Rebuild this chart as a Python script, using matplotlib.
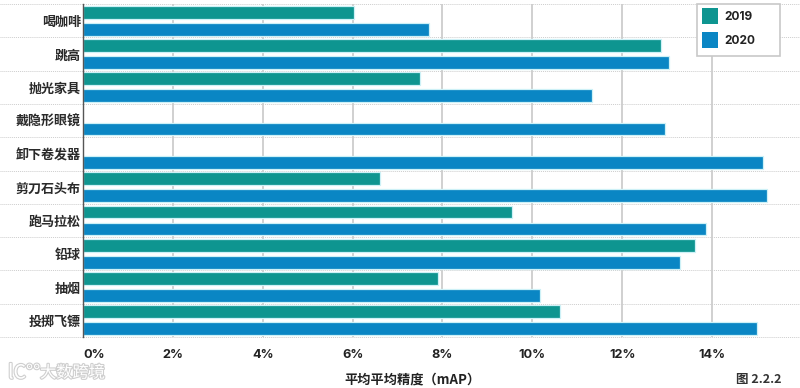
import matplotlib
matplotlib.use("Agg")
import matplotlib.pyplot as plt
import numpy as np
import matplotlib.patheffects as pe
from matplotlib.patches import Rectangle

plt.rcParams['font.family'] = ['Noto Sans CJK SC', 'DejaVu Sans']

categories = ['喝咖啡', '跳高', '抛光家具', '戴隐形眼镜', '卸下卷发器',
              '剪刀石头布', '跑马拉松', '铅球', '抽烟', '投掷飞镖']
v2019 = [6.04, 12.86, 7.50, np.nan, np.nan, 6.62, 9.55, 13.62, 7.90, 10.62]
v2020 = [7.70, 13.04, 11.33, 12.95, 15.13, 15.22, 13.87, 13.29, 10.17, 15.00]
xticks = [0, 2, 4, 6, 8, 10, 12, 14]
xlabels = ['0%', '2%', '4%', '6%', '8%', '10%', '12%', '14%']

teal = '#0E9590'
blue = '#0A86C4'
halo = '#CDF1F7'

W, H = 800, 388
fig = plt.figure(figsize=(W / 100, H / 100), dpi=100)
# axes box in pixels: left 83, right 800, top 4, bottom 337
ax = fig.add_axes([83 / W, 1 - 337 / H, (800 - 83) / W, (337 - 4) / H])

y = np.arange(len(categories))
ax.barh(y - 0.255, v2019, height=0.385, color=teal, edgecolor=halo, linewidth=0.9, zorder=3)
ax.barh(y + 0.255, v2020, height=0.385, color=blue, edgecolor=halo, linewidth=0.9, zorder=3)

ax.set_xlim(0, 15.96)
ax.set_ylim(len(categories) - 0.5, -0.5)

for s in ['top', 'right', 'bottom']:
    ax.spines[s].set_visible(False)
ax.spines['left'].set_color('#555555')
ax.spines['left'].set_linewidth(1)
ax.spines['left'].set_zorder(4)

ax.set_xticks(xticks)
ax.set_xticklabels(xlabels, fontsize=9.2, fontweight='bold', color='#222222',
                   family=['Inter', 'DejaVu Sans'])
ax.get_xticklabels()[0].set_ha('left')
ax.tick_params(axis='x', length=0, pad=9)
ax.grid(axis='x', color='#C8C8C8', linewidth=1.2, zorder=1)

ax.set_yticks(y)
ax.set_yticklabels(categories, fontsize=9.4, fontweight='bold', color='#2A2A2A')
ax.tick_params(axis='y', length=0, pad=1.5)

# dotted row separators run through the label area too
for b in np.arange(-0.5, len(categories)):
    ax.plot([-83 / 717, 1], [b, b], transform=ax.get_yaxis_transform(), clip_on=False,
            color='#CDCDCD', linewidth=0.7, linestyle=(0, (1, 1)), zorder=2)

# legend box
fig.add_artist(Rectangle((697 / W, 1 - 56 / H), 83 / W, 52 / H, transform=fig.transFigure,
                         facecolor='white', edgecolor='#C8C8C8', linewidth=1.2, zorder=5))
for top, col, name in [(8, teal, '2019'), (32, blue, '2020')]:
    fig.add_artist(Rectangle((702 / W, 1 - (top + 16) / H), 16 / W, 16 / H,
                             transform=fig.transFigure, facecolor=col, edgecolor='none', zorder=6))
    fig.text(724 / W, 1 - (top + 9) / H, name, fontsize=8.6, fontweight='bold', color='#222222',
             va='center', ha='left', family=['Inter', 'DejaVu Sans'], zorder=7)

fig.text(412 / W, 1 - 379 / H, '平均平均精度（mAP）', fontsize=9.5, color='#222222',
         ha='center', va='center', fontweight='bold')
fig.text(759 / W, 1 - 380 / H, '图 2.2.2', fontsize=9, color='#333333', ha='center', va='center',
         fontweight='bold')

# faint watermark
stroke = [pe.withStroke(linewidth=1.6, foreground='#CFCFCF')]
fig.text(40 / W, 1 - 373 / H, '大数跨境', fontsize=11.7, color='white', ha='left', va='center',
         path_effects=stroke)
fig.text(8 / W, 1 - 373 / H, 'lC°°', fontsize=14, color='white', ha='left', va='center',
         path_effects=stroke)

fig.savefig('out.png', dpi=100)
